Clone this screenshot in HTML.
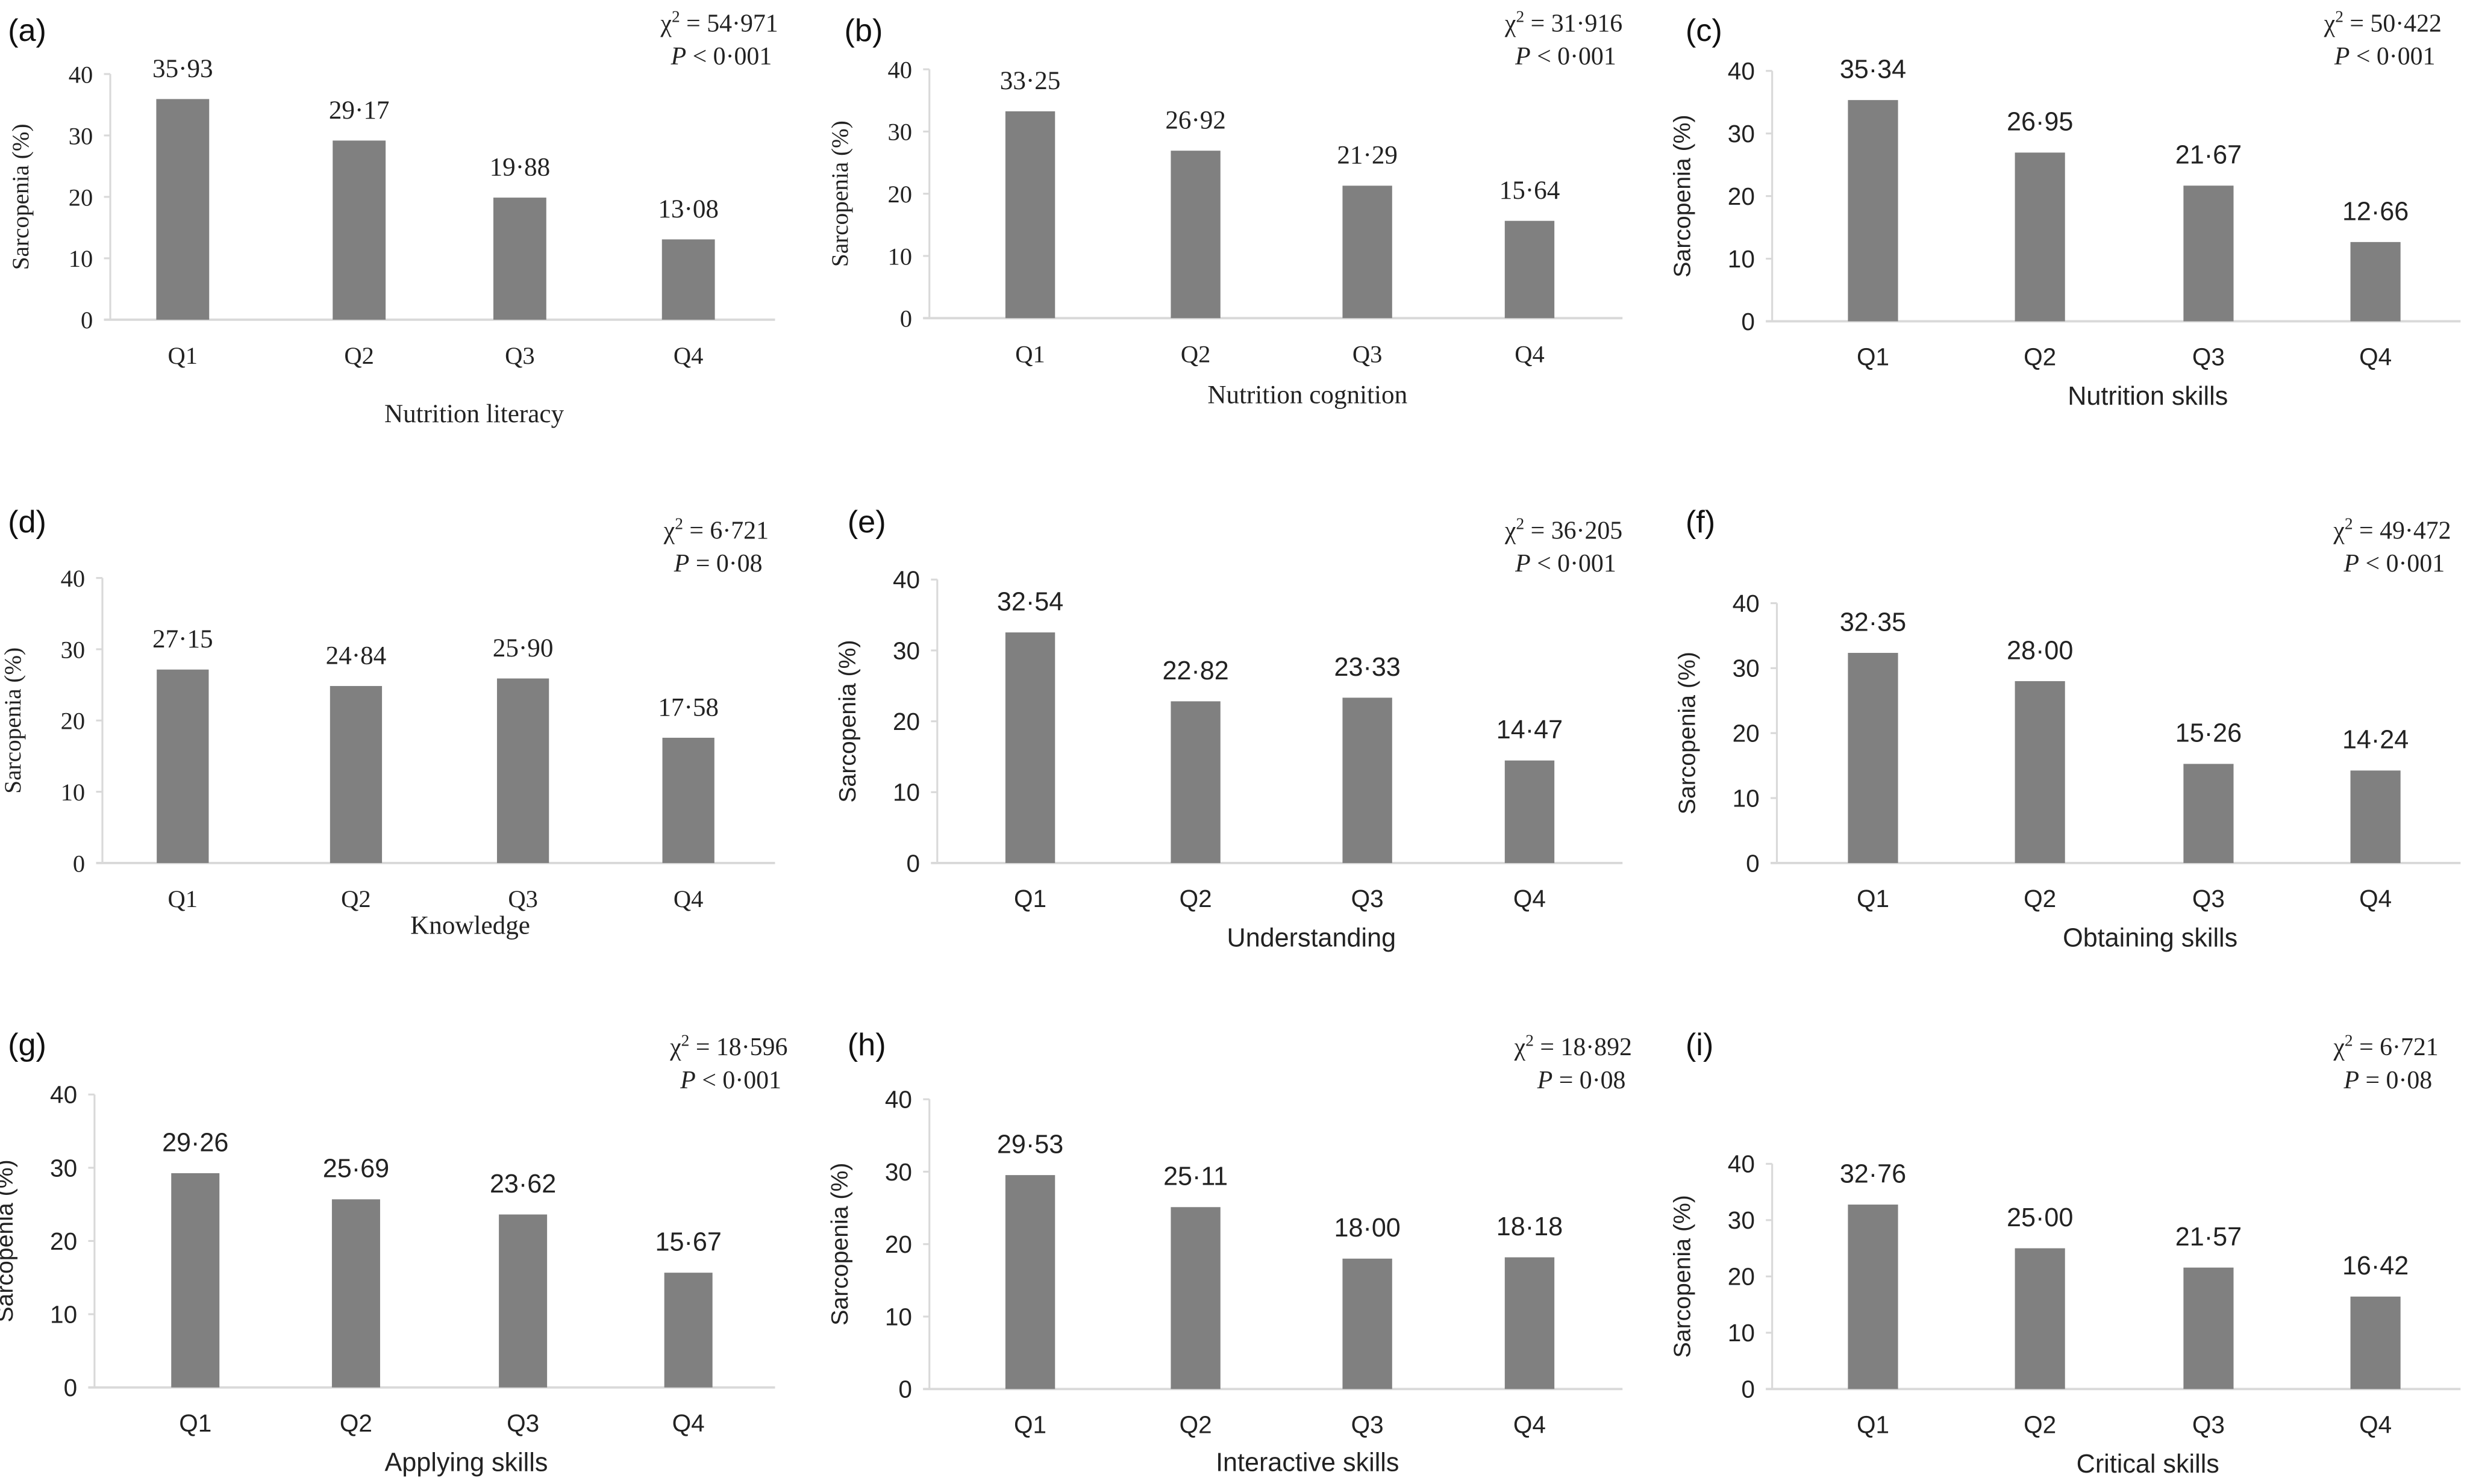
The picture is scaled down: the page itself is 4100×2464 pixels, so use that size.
<!DOCTYPE html>
<html><head><meta charset="utf-8"><style>
html,body{margin:0;padding:0;background:#fff}
svg{display:block}
.serif{font-family:"Liberation Serif",serif}
.sans{font-family:"Liberation Sans",sans-serif}
</style></head><body>
<svg id="fig" xmlns="http://www.w3.org/2000/svg" width="4100" height="2464" viewBox="0 0 1568 942.3"></svg>
<script>
const categories = ["Q1","Q2","Q3","Q4"];
const yTicks = [0,10,20,30,40];
const valuesA = [35.93,29.17,19.88,13.08];
const valuesB = [33.25,26.92,21.29,15.64];
const valuesC = [35.34,26.95,21.67,12.66];
const valuesD = [27.15,24.84,25.90,17.58];
const valuesE = [32.54,22.82,23.33,14.47];
const valuesF = [32.35,28.00,15.26,14.24];
const valuesG = [29.26,25.69,23.62,15.67];
const valuesH = [29.53,25.11,18.00,18.18];
const valuesI = [32.76,25.00,21.57,16.42];
const labelsA = ["35·93","29·17","19·88","13·08"];
const labelsB = ["33·25","26·92","21·29","15·64"];
const labelsC = ["35·34","26·95","21·67","12·66"];
const labelsD = ["27·15","24·84","25·90","17·58"];
const labelsE = ["32·54","22·82","23·33","14·47"];
const labelsF = ["32·35","28·00","15·26","14·24"];
const labelsG = ["29·26","25·69","23·62","15·67"];
const labelsH = ["29·53","25·11","18·00","18·18"];
const labelsI = ["32·76","25·00","21·57","16·42"];
const chiTexts = ["54·971","31·916","50·422","6·721","36·205","49·472","18·596","18·892","6·721"];
const pTexts = ["< 0·001","< 0·001","< 0·001","= 0·08","< 0·001","< 0·001","< 0·001","= 0·08","= 0·08"];
const titles = ["Nutrition literacy","Nutrition cognition","Nutrition skills","Knowledge","Understanding","Obtaining skills","Applying skills","Interactive skills","Critical skills"];
const letters = ["(a)","(b)","(c)","(d)","(e)","(f)","(g)","(h)","(i)"];

// layout (not data)
const panels = [
 {vals:valuesA,labs:labelsA,ax:70,y40:47,y0:203,cx:[116,228,330,437],xr:492,ty:263,lx:5,ly:18,sx:494,sy:15,font:"serif"},
 {vals:valuesB,labs:labelsB,ax:590,y40:44,y0:202,cx:[654,759,868,971],xr:1030,ty:251,lx:536,ly:18,sx:1030,sy:15,font:"serif"},
 {vals:valuesC,labs:labelsC,ax:1125,y40:45,y0:204,cx:[1189,1295,1402,1508],xr:1562,ty:252,lx:1070,ly:18,sx:1550,sy:15,font:"sans"},
 {vals:valuesD,labs:labelsD,ax:65,y40:367,y0:548,cx:[116,226,332,437],xr:492,ty:588,lx:5,ly:330,sx:488,sy:337,font:"serif"},
 {vals:valuesE,labs:labelsE,ax:595,y40:368,y0:548,cx:[654,759,868,971],xr:1030,ty:596,lx:538,ly:330,sx:1030,sy:337,font:"sans"},
 {vals:valuesF,labs:labelsF,ax:1128,y40:383,y0:548,cx:[1189,1295,1402,1508],xr:1562,ty:596,lx:1070,ly:330,sx:1556,sy:337,font:"sans"},
 {vals:valuesG,labs:labelsG,ax:60,y40:695,y0:881,cx:[124,226,332,437],xr:492,ty:929,lx:5,ly:662,sx:500,sy:665,font:"sans"},
 {vals:valuesH,labs:labelsH,ax:590,y40:698,y0:882,cx:[654,759,868,971],xr:1030,ty:929,lx:538,ly:662,sx:1036,sy:665,font:"sans"},
 {vals:valuesI,labs:labelsI,ax:1125,y40:739,y0:882,cx:[1189,1295,1402,1508],xr:1562,ty:930,lx:1070,ly:662,sx:1548,sy:665,font:"sans"}
];
const NS="http://www.w3.org/2000/svg";
const svg=document.getElementById('fig');
function mk(tag,attrs,parent,text){const e=document.createElementNS(NS,tag);for(const k in attrs)e.setAttribute(k,attrs[k]);if(text!==undefined)e.textContent=text;parent.appendChild(e);return e;}
panels.forEach((p,i)=>{
  const g=mk('g',{},svg);
  
  
  const y=v=>p.y0-(v/40)*(p.y0-p.y40);
  const fc=p.font==="serif"?"serif":"sans";
  const ya=mk('line',{x1:p.ax,y1:y(40),x2:p.ax,y2:p.y0,stroke:'#d9d9d9','stroke-width':1.2},g);
  
  
  const xa=mk('line',{x1:p.ax-4,y1:p.y0,x2:p.xr,y2:p.y0,stroke:'#d9d9d9','stroke-width':1.5},g);
  
  
  yTicks.forEach(t=>{
    mk('line',{x1:p.ax-4,y1:y(t),x2:p.ax,y2:y(t),stroke:'#d9d9d9','stroke-width':1.2},g);
    const tl=mk('text',{x:p.ax-11,y:y(t)+5.5,'text-anchor':'end','font-size':15.5,fill:'#222',class:fc},g,String(t));
    
    
  });
  const bw=(p.cx[1]-p.cx[0])*0.3;
  categories.forEach((c,j)=>{
    const b=mk('rect',{x:p.cx[j]-bw/2,y:y(p.vals[j]),width:bw,height:p.y0-y(p.vals[j]),fill:'#808080'},g);
    
    
    const vl=mk('text',{x:p.cx[j],y:y(p.vals[j])-14,'text-anchor':'middle','font-size':16.5,fill:'#222',class:fc},g,p.labs[j]);
    
    
    const xl=mk('text',{x:p.cx[j],y:p.y0+28,'text-anchor':'middle','font-size':15.5,fill:'#222',class:fc},g,c);
    
    
  });
  const yt=mk('text',{x:0,y:0,'text-anchor':'middle','font-size':15,fill:'#222',class:fc,transform:`translate(${p.ax-52},${(p.y0+y(40))/2}) rotate(-90)`},g,'Sarcopenia (%)');
  
  
  const xt=mk('text',{x:(p.ax+p.xr)/2+20,y:p.ty+5,'text-anchor':'middle','font-size':16.5,fill:'#222',class:fc},g,titles[i]);
  
  
  const lt=mk('text',{x:p.lx,y:p.ly+8,'font-size':20,fill:'#111',class:'sans'},g,letters[i]);
  
  
  const st=mk('text',{x:p.sx,y:p.sy+5,'text-anchor':'end','font-size':16,fill:'#222',class:'serif'},g);
  
  
  mk('tspan',{},st,'χ');
  mk('tspan',{dy:-6,'font-size':10.5},st,'2');
  mk('tspan',{dy:6},st,' = '+chiTexts[i]);
  const pt=mk('text',{x:p.sx-4,y:p.sy+26,'text-anchor':'end','font-size':16,fill:'#222',class:'serif'},g);
  
  
  mk('tspan',{'font-style':'italic'},pt,'P');
  mk('tspan',{},pt,' '+pTexts[i]);
});
</script>
</body></html>
